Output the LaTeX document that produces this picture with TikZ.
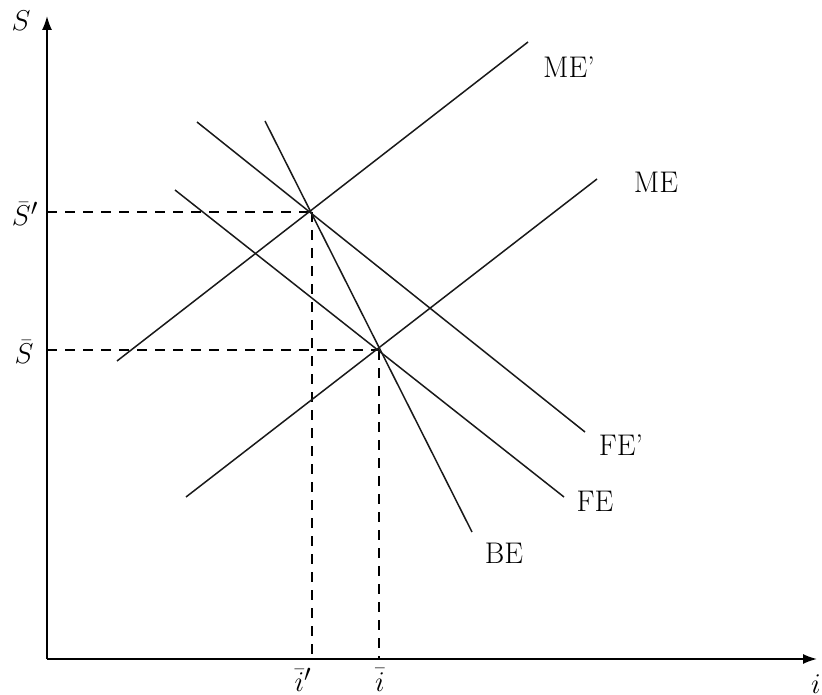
\documentclass[tikz,border=0pt]{standalone}
\usetikzlibrary{arrows.meta}
\begin{document}
\begin{tikzpicture}[x=1pt,y=-1pt,
  curve/.style={line width=1.5pt,black!90},
  axis/.style={line width=1.6pt,-{Latex[length=14pt,width=10pt]}},
  guide/.style={line width=1.3pt,dash pattern=on 10pt off 8pt},
  lbl/.style={inner sep=0pt,font=\Huge,scale=1.2},
  mlbl/.style={inner sep=0pt,font=\Huge,scale=1.15}]
\useasboundingbox (0,0) rectangle (822,695);
% axes
\coordinate (O) at (47,659);
\coordinate (Ytop) at (47,16);
\coordinate (Xend) at (817,659);
\draw[axis] (O) -- (Ytop);
\draw[axis] (O) -- (Xend);
\node[mlbl] (Slab) at (21,21) {$S$};
\node[mlbl] (ilab) at (816,684) {$i$};
% intersection points
\coordinate (P1) at (312,212);
\coordinate (P2) at (379,350);
\coordinate (Y1) at (47,212);
\coordinate (Y2) at (47,350);
\coordinate (X1) at (312,659);
\coordinate (X2) at (379,659);
\draw[guide] (Y1) -- (P1);
\draw[guide] (P1) -- (X1);
\draw[guide] (Y2) -- (P2);
\draw[guide] (P2) -- (X2);
\node[mlbl] (Sp) at (25,214) {$\bar S'$};
\node[mlbl] (S0) at (24,352) {$\bar S$};
\node[mlbl] (ip) at (303,680) {$\bar{i}'$};
\node[mlbl] (i0) at (380,680) {$\bar{i}$};
% curves
\coordinate (MEpa) at (117,361); \coordinate (MEpb) at (528,42);
\coordinate (MEa) at (186,497);  \coordinate (MEb) at (597,179);
\coordinate (FEpa) at (197,122); \coordinate (FEpb) at (585,432);
\coordinate (FEa) at (175,190);  \coordinate (FEb) at (564,497);
\coordinate (BEa) at (265,121);  \coordinate (BEb) at (472,532);
\draw[curve] (MEpa) -- (MEpb);
\draw[curve] (MEa) -- (MEb);
\draw[curve] (FEpa) -- (FEpb);
\draw[curve] (FEa) -- (FEb);
\draw[curve] (BEa) -- (BEb);
\node[lbl] (MEplab) at (569,67) {ME'};
\node[lbl] (MElab) at (656,182) {ME};
\node[lbl] (FEplab) at (621,445) {FE'};
\node[lbl] (FElab) at (595,501) {FE};
\node[lbl] (BElab) at (504,553) {BE};
\end{tikzpicture}
\end{document}
